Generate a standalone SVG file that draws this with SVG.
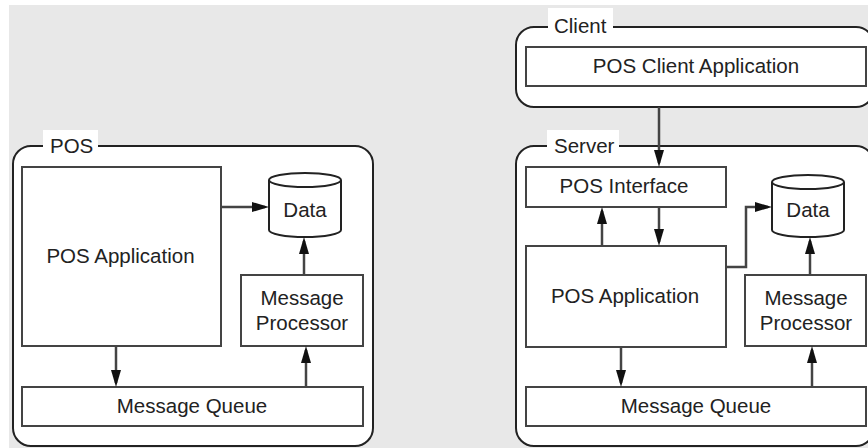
<svg xmlns="http://www.w3.org/2000/svg" width="868" height="448" viewBox="0 0 868 448">
<defs>
<marker id="arr" viewBox="0 0 17 10" refX="13" refY="5" markerWidth="17" markerHeight="10" orient="auto" markerUnits="userSpaceOnUse">
<path d="M0,0 L17,5 L0,10 z" fill="#111"/>
</marker>
</defs>
<style>
.bg{fill:#e8e8e8}
.grp{fill:#fff;stroke:#222;stroke-width:2}
.lbl{fill:#fff}
.box{fill:#fff;stroke:#444;stroke-width:2}
.cyl{fill:#fff;stroke:#222;stroke-width:2}
text{font-family:"Liberation Sans",Arial,sans-serif;font-size:20.5px;fill:#222}
.c{text-anchor:middle}
.con{fill:none;stroke:#444;stroke-width:2.5;marker-end:url(#arr)}
</style>
<rect x="0" y="0" width="868" height="448" fill="#fff"/>
<rect class="bg" x="9" y="5" width="859" height="443"/>

<g id="pos-group">
<rect class="grp" x="13" y="146" width="360" height="300" rx="18"/>
<rect class="lbl" x="43" y="130" width="55" height="18"/>
<text x="50" y="153">POS</text>
</g>
<g id="left-pos-application">
<rect class="box" x="22" y="167" width="199" height="179"/>
<text class="c" x="120.5" y="263">POS Application</text>
</g>
<g id="left-data">
<path class="cyl" d="M269,180 V230 A36,7 0 0 0 341,230 V180"/>
<ellipse class="cyl" cx="305" cy="180" rx="36" ry="7"/>
<text class="c" x="305" y="217">Data</text>
</g>
<g id="left-message-processor">
<rect class="box" x="241" y="275" width="122" height="71"/>
<text class="c" x="302" y="305">Message</text>
<text class="c" x="302" y="330">Processor</text>
</g>
<g id="left-message-queue">
<rect class="box" x="22" y="387" width="341" height="39"/>
<text class="c" x="192" y="413">Message Queue</text>
</g>

<g id="client-group">
<rect class="grp" x="516" y="27" width="358" height="80" rx="18"/>
<rect class="lbl" x="548" y="8" width="65" height="21"/>
<text x="554" y="33">Client</text>
</g>
<g id="pos-client-application">
<rect class="box" x="526" y="47" width="340" height="39"/>
<text class="c" x="696" y="73">POS Client Application</text>
</g>

<g id="server-group">
<rect class="grp" x="516" y="146" width="358" height="300" rx="18"/>
<rect class="lbl" x="547" y="130" width="72" height="18"/>
<text x="554" y="153">Server</text>
</g>
<g id="pos-interface">
<rect class="box" x="526" y="167" width="200" height="40"/>
<text class="c" x="624" y="193">POS Interface</text>
</g>
<g id="right-pos-application">
<rect class="box" x="526" y="246" width="200" height="101"/>
<text class="c" x="625" y="303">POS Application</text>
</g>
<g id="right-data">
<path class="cyl" d="M772,182 V230 A36,7 0 0 0 844,230 V182"/>
<ellipse class="cyl" cx="808" cy="182" rx="36" ry="7"/>
<text class="c" x="808" y="217">Data</text>
</g>
<g id="right-message-processor">
<rect class="box" x="745" y="275" width="121" height="71"/>
<text class="c" x="806" y="305">Message</text>
<text class="c" x="806" y="330">Processor</text>
</g>
<g id="right-message-queue">
<rect class="box" x="526" y="387" width="340" height="39"/>
<text class="c" x="696" y="413">Message Queue</text>
</g>

<g id="connectors">
<path class="con" d="M221,207 H265"/>
<path class="con" d="M304,275 V241"/>
<path class="con" d="M116,346 V383"/>
<path class="con" d="M306,387 V350"/>
<path class="con" d="M659,107 V163"/>
<path class="con" d="M659,207 V242"/>
<path class="con" d="M602,246 V211"/>
<path class="con" d="M726,267 H746 V207 H768"/>
<path class="con" d="M810,275 V241"/>
<path class="con" d="M621,347 V383"/>
<path class="con" d="M812,387 V350"/>
</g>
</svg>
